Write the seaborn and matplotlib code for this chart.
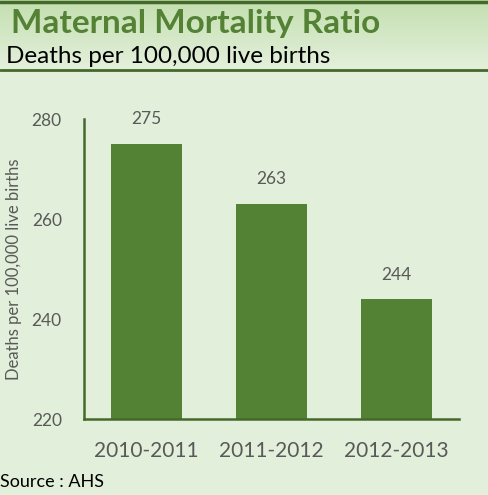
import matplotlib
matplotlib.use('Agg')
import numpy as np
import pandas as pd
import matplotlib.pyplot as plt
import seaborn as sns
from matplotlib.colors import LinearSegmentedColormap

# data
periods = ["2010-2011", "2011-2012", "2012-2013"]
mmr = [275, 263, 244]
y_ticks = [220, 240, 260, 280]

BG = "#E2EFDA"
BAR = "#548235"
LINE = "#44692B"
GREY = "#595959"

sns.set_theme(style="white")
plt.rcParams['font.family'] = ['Lato', 'DejaVu Sans']

df = pd.DataFrame({"period": periods, "mmr": mmr})

W, H = 488, 495
fig = plt.figure(figsize=(W / 100, H / 100), dpi=100)
fig.patch.set_facecolor(BG)

# header gradient band
hdr = fig.add_axes([0, 1 - 70 / H, 1, 70 / H])
grad = np.linspace(0, 1, 100).reshape(-1, 1)
cmap = LinearSegmentedColormap.from_list("hdr", ["#E4F0DC", "#C3DFAF"])
hdr.imshow(grad, aspect="auto", cmap=cmap, extent=[0, 1, 0, 1], origin="lower")
hdr.set_axis_off()
fig.add_artist(plt.Line2D([0, 1], [1 - 1.5 / H, 1 - 1.5 / H], color=LINE, lw=2.5))
fig.add_artist(plt.Line2D([0, 1], [1 - 70 / H, 1 - 70 / H], color=LINE, lw=2))

fig.text(11 / W, 1 - 33 / H, "Maternal Mortality Ratio", color=BAR,
         fontsize=24, fontweight="bold", va="baseline", ha="left")
fig.text(6 / W, 1 - 63 / H, "Deaths per 100,000 live births", color="black",
         fontsize=17.5, va="baseline", ha="left")

ax = fig.add_axes([84 / W, 1 - 419 / H, 375 / W, 300 / H])
ax.set_facecolor(BG)
sns.barplot(data=df, x="period", y="mmr", color=BAR, saturation=1,
            width=0.57, linewidth=0, edgecolor="none", ax=ax)
ax.set_ylim(220, 280)
ax.set_xlim(-0.5, 2.5)
ax.set_yticks(y_ticks)
ax.tick_params(axis="both", colors=GREY, length=0)
ax.tick_params(axis="y", pad=16, labelsize=12.5)
ax.tick_params(axis="x", pad=16, labelsize=15)
for s in ["top", "right"]:
    ax.spines[s].set_visible(False)
for s in ["left", "bottom"]:
    ax.spines[s].set_color(LINE)
    ax.spines[s].set_linewidth(1.8)
ax.set_xlabel("")
ax.set_ylabel("")
for i, v in enumerate(mmr):
    ax.text(i, v + 3.3, str(v), ha="center", va="bottom", color=GREY, fontsize=12.5)

fig.text(14 / W, 1 - 269 / H, "Deaths per 100,000 live births", rotation=90,
         color=GREY, fontsize=12, va="center", ha="center")
fig.text(0, 1 - 487 / H, "Source : AHS", color="black", fontsize=13,
         va="baseline", ha="left")

fig.savefig("out.png", dpi=100, facecolor=BG)
